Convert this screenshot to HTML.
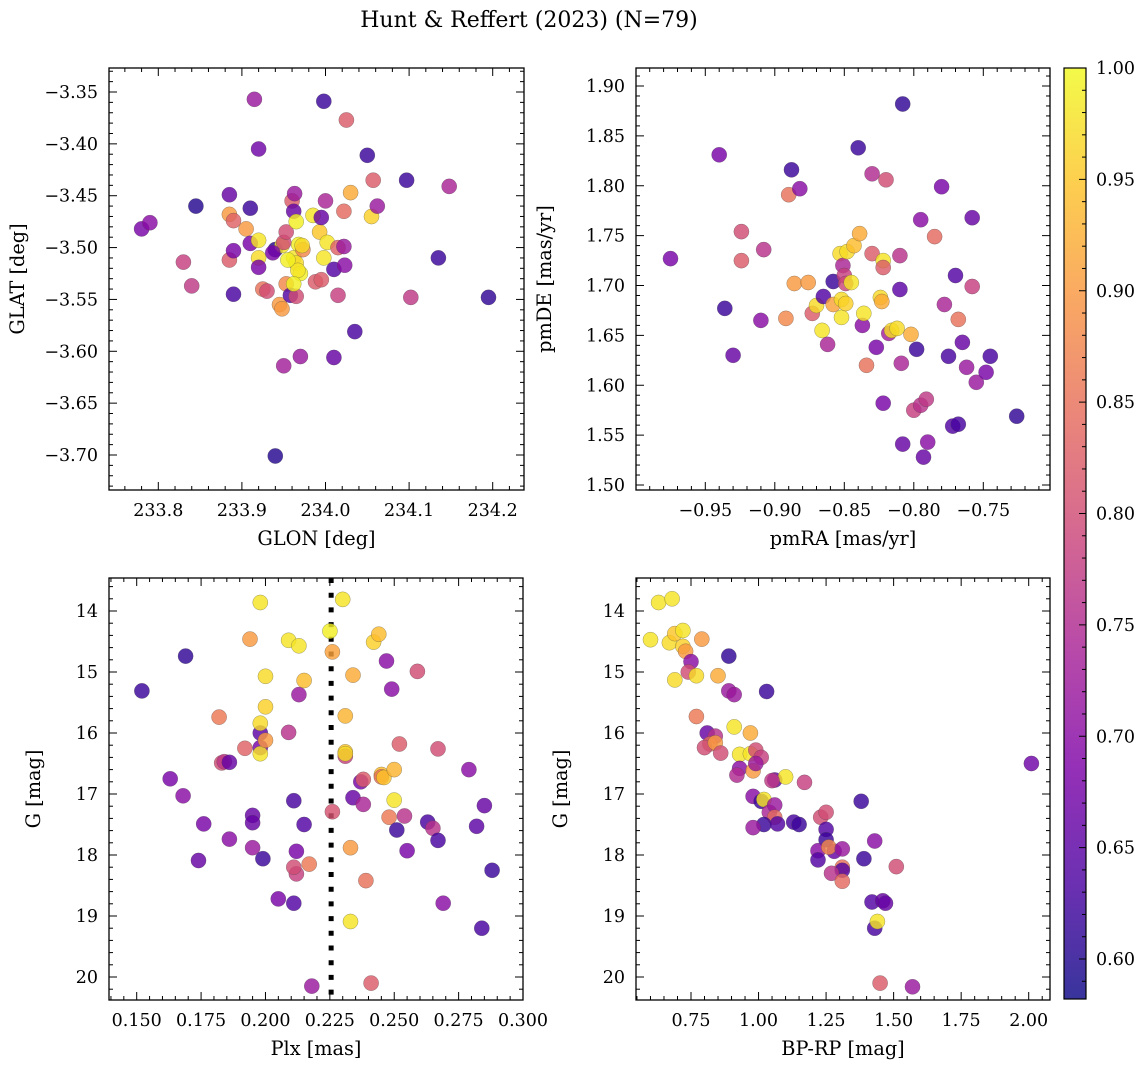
<!DOCTYPE html>
<html><head><meta charset="utf-8"><style>
html,body{margin:0;padding:0;background:#fff;}
svg{display:block;font-family:"DejaVu Serif","Liberation Serif",serif;}
</style></head><body>
<svg id="fig" width="1148" height="1067" viewBox="0 0 1148 1067" xmlns="http://www.w3.org/2000/svg">
<defs>
<linearGradient id="plasmaGrad" x1="0" y1="1" x2="0" y2="0">
<stop offset="0" stop-color="#0d0887"/><stop offset="0.125" stop-color="#4c02a1"/><stop offset="0.25" stop-color="#7e03a8"/><stop offset="0.375" stop-color="#a82296"/><stop offset="0.5" stop-color="#cb4679"/><stop offset="0.625" stop-color="#e56b5d"/><stop offset="0.75" stop-color="#f89441"/><stop offset="0.875" stop-color="#fdc328"/><stop offset="1" stop-color="#f0f921"/>
</linearGradient>
</defs>
<text x="529" y="27" font-size="22" text-anchor="middle">Hunt &amp; Reffert (2023) (N=79)</text>
</svg>
<script>
// ---- Panel data (top-left: GLON vs GLAT) ----
const glon = [233.78,233.79,233.845,233.83,233.84,233.885,233.885,233.89,233.905,233.885,233.89,233.89,233.91,233.91,233.915,233.92,233.92,233.92,233.92,233.925,233.93,233.94,233.94,233.945,233.948,233.95,233.948,233.95,233.953,233.953,233.958,233.96,233.963,233.962,233.965,233.962,233.965,233.968,233.97,233.967,233.965,233.97,233.973,233.972,233.988,233.985,233.995,233.993,233.998,233.995,234.0,234.002,233.998,234.01,234.01,234.015,234.015,234.022,234.022,234.025,234.023,234.03,234.035,234.05,234.055,234.057,234.062,234.097,234.102,234.135,234.148,234.195,233.937,233.955,233.962];
const glat = [-3.482,-3.476,-3.46,-3.514,-3.537,-3.449,-3.468,-3.474,-3.482,-3.512,-3.503,-3.545,-3.462,-3.496,-3.357,-3.405,-3.493,-3.51,-3.519,-3.54,-3.542,-3.502,-3.701,-3.555,-3.559,-3.614,-3.498,-3.495,-3.535,-3.485,-3.546,-3.455,-3.448,-3.465,-3.475,-3.51,-3.515,-3.497,-3.525,-3.522,-3.547,-3.605,-3.502,-3.498,-3.533,-3.469,-3.531,-3.485,-3.359,-3.471,-3.455,-3.495,-3.51,-3.521,-3.606,-3.546,-3.5,-3.499,-3.465,-3.377,-3.517,-3.447,-3.581,-3.411,-3.47,-3.435,-3.46,-3.435,-3.548,-3.51,-3.441,-3.548,-3.505,-3.512,-3.535];
const probTL = [0.68,0.70,0.60,0.78,0.77,0.66,0.90,0.83,0.90,0.82,0.68,0.63,0.62,0.68,0.72,0.67,0.98,0.97,0.68,0.85,0.80,0.60,0.60,0.90,0.90,0.73,0.98,0.80,0.88,0.80,0.64,0.82,0.72,0.66,0.99,0.98,0.97,0.99,0.99,0.98,0.80,0.72,0.88,0.97,0.82,0.98,0.82,0.95,0.62,0.66,0.74,0.98,0.98,0.64,0.66,0.78,0.83,0.72,0.84,0.82,0.70,0.92,0.63,0.62,0.96,0.82,0.72,0.62,0.77,0.62,0.74,0.61,0.68,0.99,0.99];

// ---- top-right: pmRA vs pmDE ----
const pmra = [-0.975,-0.94,-0.936,-0.93,-0.924,-0.924,-0.91,-0.908,-0.89,-0.888,-0.892,-0.882,-0.886,-0.876,-0.873,-0.87,-0.866,-0.865,-0.862,-0.858,-0.858,-0.852,-0.852,-0.853,-0.851,-0.85,-0.849,-0.849,-0.848,-0.845,-0.843,-0.84,-0.839,-0.837,-0.836,-0.834,-0.83,-0.83,-0.827,-0.824,-0.823,-0.822,-0.822,-0.822,-0.82,-0.818,-0.816,-0.812,-0.81,-0.81,-0.809,-0.808,-0.808,-0.802,-0.8,-0.798,-0.795,-0.795,-0.793,-0.791,-0.79,-0.785,-0.78,-0.778,-0.775,-0.772,-0.77,-0.768,-0.768,-0.765,-0.762,-0.758,-0.758,-0.755,-0.748,-0.745,-0.726];
const pmde = [1.727,1.831,1.677,1.63,1.754,1.725,1.665,1.736,1.791,1.816,1.667,1.797,1.702,1.703,1.672,1.68,1.655,1.689,1.641,1.704,1.681,1.686,1.668,1.732,1.72,1.71,1.682,1.702,1.734,1.703,1.74,1.838,1.752,1.66,1.672,1.62,1.812,1.732,1.638,1.688,1.684,1.725,1.718,1.582,1.806,1.652,1.655,1.657,1.73,1.696,1.622,1.882,1.541,1.651,1.575,1.636,1.766,1.58,1.528,1.586,1.543,1.749,1.799,1.681,1.629,1.559,1.71,1.666,1.561,1.643,1.618,1.768,1.699,1.603,1.613,1.629,1.569];
const probTR = [0.68,0.68,0.62,0.66,0.80,0.82,0.70,0.76,0.85,0.62,0.88,0.70,0.90,0.90,0.82,0.97,0.98,0.64,0.74,0.62,0.91,0.97,0.98,0.97,0.74,0.78,0.96,0.79,0.97,0.98,0.94,0.62,0.92,0.70,0.98,0.85,0.75,0.82,0.68,0.97,0.92,0.98,0.82,0.68,0.80,0.73,0.97,0.97,0.76,0.65,0.74,0.61,0.66,0.92,0.78,0.62,0.70,0.76,0.66,0.77,0.70,0.84,0.68,0.74,0.63,0.64,0.64,0.85,0.63,0.66,0.72,0.66,0.78,0.72,0.68,0.63,0.61];

// ---- bottom-left: Plx vs G ----
const plx = [0.152,0.163,0.168,0.169,0.176,0.174,0.182,0.183,0.184,0.186,0.186,0.192,0.194,0.195,0.195,0.195,0.198,0.198,0.198,0.198,0.198,0.199,0.2,0.2,0.2,0.205,0.209,0.209,0.211,0.211,0.212,0.211,0.212,0.213,0.213,0.215,0.215,0.217,0.218,0.225,0.226,0.226,0.23,0.231,0.231,0.231,0.231,0.233,0.233,0.234,0.234,0.237,0.238,0.238,0.239,0.241,0.242,0.244,0.245,0.245,0.246,0.247,0.248,0.249,0.25,0.25,0.251,0.252,0.254,0.255,0.259,0.263,0.265,0.267,0.267,0.269,0.279,0.282,0.284,0.285,0.288];
const gmagL = [15.31,16.75,17.03,14.74,17.49,18.09,15.74,16.49,16.47,16.48,17.74,16.25,14.46,17.35,17.47,17.88,16.0,13.86,16.24,16.34,15.84,18.06,15.07,15.57,16.12,18.72,14.48,15.99,17.11,18.79,18.31,18.2,17.94,15.37,14.57,15.14,17.5,18.15,20.15,14.33,14.67,17.29,13.81,15.72,16.31,16.38,16.34,17.88,19.09,17.06,15.05,16.8,16.76,17.17,18.42,20.1,14.51,14.38,16.68,16.72,16.73,14.82,17.38,15.28,16.6,17.1,17.59,16.18,17.36,17.93,14.99,17.46,17.56,16.26,17.76,18.79,16.6,17.53,19.2,17.19,18.25];
const probBL = [0.62,0.68,0.70,0.61,0.68,0.66,0.86,0.80,0.77,0.66,0.70,0.83,0.90,0.66,0.66,0.72,0.65,0.98,0.68,0.98,0.97,0.62,0.97,0.96,0.90,0.68,0.98,0.76,0.63,0.64,0.78,0.80,0.68,0.72,0.98,0.94,0.64,0.86,0.72,0.99,0.91,0.81,0.98,0.93,0.95,0.78,0.97,0.90,0.98,0.66,0.92,0.68,0.82,0.74,0.85,0.82,0.96,0.94,0.94,0.85,0.95,0.70,0.86,0.70,0.93,0.98,0.62,0.82,0.76,0.68,0.80,0.63,0.76,0.80,0.63,0.70,0.70,0.65,0.63,0.66,0.62];
const plxCut = [0.2255];

// ---- bottom-right: BP-RP vs G ----
const bprp = [0.60,0.63,0.68,0.67,0.69,0.72,0.72,0.73,0.75,0.74,0.69,0.77,0.79,0.89,0.77,0.85,0.89,0.91,0.91,0.81,0.84,0.82,0.80,0.84,0.86,0.97,1.03,0.93,0.97,0.99,1.01,0.93,0.92,0.98,0.99,1.06,1.10,1.05,1.17,0.98,1.01,1.02,1.04,1.06,1.06,1.02,0.98,1.07,1.13,1.15,1.38,1.23,1.25,1.25,1.25,1.28,1.22,1.26,1.31,1.22,1.39,1.31,1.31,1.27,1.31,1.43,1.51,1.42,1.46,1.47,1.43,1.44,1.45,1.57,2.01];
const gmagR = [14.47,13.86,13.80,14.52,14.37,14.32,14.58,14.66,14.83,15.0,15.13,15.06,14.46,14.74,15.73,15.06,15.31,15.37,15.9,16.0,16.05,16.18,16.24,16.16,16.33,16.0,15.32,16.35,16.34,16.28,16.4,16.58,16.69,16.62,16.5,16.77,16.72,16.78,16.81,17.04,17.12,17.09,17.3,17.18,17.38,17.5,17.55,17.49,17.46,17.5,17.12,17.38,17.3,17.58,17.75,17.94,17.93,17.87,17.9,18.08,18.06,18.2,18.25,18.3,18.43,17.77,18.19,18.77,18.75,18.79,19.2,19.09,20.1,20.16,16.5];
const probBR = [0.98,0.98,0.98,0.97,0.95,0.98,0.96,0.90,0.70,0.80,0.97,0.97,0.90,0.61,0.86,0.92,0.72,0.72,0.98,0.66,0.76,0.84,0.80,0.90,0.80,0.92,0.62,0.98,0.98,0.80,0.78,0.70,0.75,0.90,0.72,0.66,0.98,0.77,0.78,0.70,0.62,0.98,0.74,0.72,0.84,0.62,0.72,0.64,0.63,0.62,0.62,0.80,0.80,0.64,0.62,0.66,0.70,0.88,0.72,0.64,0.62,0.85,0.64,0.76,0.84,0.70,0.80,0.64,0.66,0.66,0.63,0.98,0.82,0.72,0.67];

const cbTicks = ["0.60","0.65","0.70","0.75","0.80","0.85","0.90","0.95","1.00"];
const VMIN = 0.582, VMAX = 1.0;

const NS = "http://www.w3.org/2000/svg";
const svg = document.getElementById('fig');
function mk(tag, attrs, parent){
  const e = document.createElementNS(NS, tag);
  for (const k in attrs) e.setAttribute(k, attrs[k]);
  (parent||svg).appendChild(e);
  return e;
}
const stops = [[0,[13,8,135]],[0.125,[76,2,161]],[0.25,[126,3,168]],[0.375,[168,34,150]],[0.5,[203,70,121]],[0.625,[229,107,93]],[0.75,[248,148,65]],[0.875,[253,195,40]],[1,[240,249,33]]];
function plasma(t){
  t = Math.max(0, Math.min(1, t));
  for (let i=0;i<stops.length-1;i++){
    const a=stops[i], b=stops[i+1];
    if (t<=b[0]){
      const f=(t-a[0])/(b[0]-a[0]);
      const c=a[1].map((v,j)=>Math.round(v+(b[1][j]-v)*f));
      return `rgb(${c[0]},${c[1]},${c[2]})`;
    }
  }
  return 'rgb(240,249,33)';
}
function lin(v0,p0,v1,p1){ const s=(p1-p0)/(v1-v0); return v=>p0+(v-v0)*s; }
function inv(v0,p0,v1,p1){ const s=(v1-v0)/(p1-p0); return p=>v0+(p-p0)*s; }
function fmt(v,d){ const s=Math.abs(v).toFixed(d); return (v<0?'\u2212':'')+s; }

function panel(cfg){
  const g = mk('g', {});
  
  
  const {L,T,R,B} = cfg;
  const xs = lin(cfg.xr[0],cfg.xr[1],cfg.xr[2],cfg.xr[3]);
  const ys = lin(cfg.yr[0],cfg.yr[1],cfg.yr[2],cfg.yr[3]);
  const xi = inv(cfg.xr[0],cfg.xr[1],cfg.xr[2],cfg.xr[3]);
  const yi = inv(cfg.yr[0],cfg.yr[1],cfg.yr[2],cfg.yr[3]);
  const cid = 'clip-'+cfg.name;
  const cp = mk('clipPath', {id:cid}, g);
  mk('rect', {x:L,y:T,width:R-L,height:B-T}, cp);
  const plotG = mk('g', {'clip-path':`url(#${cid})`}, g);
  
  
  if (cfg.vline){
    cfg.vline.forEach(v=>{
      const ln = mk('line', {x1:xs(v),x2:xs(v),y1:T,y2:B,stroke:'#000','stroke-width':5,'stroke-dasharray':'5,9.7'}, plotG);
      
      
    });
  }
  for (let i=0;i<cfg.x.length;i++){
    const c = mk('circle', {cx:xs(cfg.x[i]).toFixed(1), cy:ys(cfg.y[i]).toFixed(1), r:7.6,
      fill:plasma((cfg.p[i]-VMIN)/(VMAX-VMIN)), 'fill-opacity':0.82, stroke:'#444', 'stroke-width':0.5, 'stroke-opacity':0.5}, plotG);
    
    
  }
  const fr = mk('rect', {x:L,y:T,width:R-L,height:B-T,fill:'none',stroke:'#000','stroke-width':1.3}, g);
  
  
  const tg = mk('g', {stroke:'#000','stroke-width':1}, g);
  
  
  const lab = mk('g', {'font-size':17.5}, g);
  const x0=xi(L), x1=xi(R+2);
  for (let k=Math.ceil(x0/cfg.xmin-1e-6); k*cfg.xmin<=x1+1e-9; k++){
    const v=k*cfg.xmin, px=xs(v);
    if (px<L+0.5||px>R+2) continue;
    const major = Math.abs(v/cfg.xmaj-Math.round(v/cfg.xmaj))<1e-6;
    const len = major?8:4;
    if (px<R-0.5){
      mk('line',{x1:px,x2:px,y1:B,y2:B-len},tg); mk('line',{x1:px,x2:px,y1:T,y2:T+len},tg);
    }
    if (major){
      const t = mk('text',{x:px,y:B+26,'text-anchor':'middle'},lab);
      t.textContent = fmt(v,cfg.xd);
      
      
    }
  }
  const ya=Math.min(yi(T),yi(B)), yb=Math.max(yi(T),yi(B));
  for (let k=Math.ceil(ya/cfg.ymin-1e-6); k*cfg.ymin<=yb+1e-9; k++){
    const v=k*cfg.ymin, py=ys(v);
    if (py<T+0.5||py>B-0.5) continue;
    const major = Math.abs(v/cfg.ymaj-Math.round(v/cfg.ymaj))<1e-6;
    const len = major?8:4;
    mk('line',{x1:L,x2:L+len,y1:py,y2:py},tg); mk('line',{x1:R,x2:R-len,y1:py,y2:py},tg);
    if (major){
      const t = mk('text',{x:L-11,y:py+6,'text-anchor':'end'},lab);
      t.textContent = fmt(v,cfg.yd);
      
      
    }
  }
  const xl = mk('text',{x:(L+R)/2,y:B+55,'text-anchor':'middle','font-size':19.3},g);
  xl.textContent = cfg.xlabel;
  
  
  const yx = cfg.ylx, yy=(T+B)/2;
  const yl = mk('text',{x:yx,y:yy,'text-anchor':'middle','font-size':19.3,transform:`rotate(-90 ${yx} ${yy})`},g);
  yl.textContent = cfg.ylabel;
  
  
}

panel({name:'glon-glat-panel',L:109,T:68,R:524,B:490,xr:[233.8,158.3,234.2,492.7],yr:[-3.35,92,-3.70,455],
  x:glon,y:glat,p:probTL,xmaj:0.1,xmin:0.02,ymaj:0.05,ymin:0.01,xd:1,yd:2,xlabel:'GLON [deg]',ylabel:'GLAT [deg]',ylx:24});
panel({name:'pm-panel',L:636,T:68,R:1050,B:490,xr:[-0.95,705.3,-0.75,983.3],yr:[1.90,86,1.50,485],
  x:pmra,y:pmde,p:probTR,xmaj:0.05,xmin:0.01,ymaj:0.05,ymin:0.01,xd:2,yd:2,xlabel:'pmRA [mas/yr]',ylabel:'pmDE [mas/yr]',ylx:551});
panel({name:'plx-g-panel',L:109,T:578,R:523,B:1000,xr:[0.15,136.7,0.30,523],yr:[14,611,20,977],
  x:plx,y:gmagL,p:probBL,xmaj:0.025,xmin:0.005,ymaj:1,ymin:0.2,xd:3,yd:0,xlabel:'Plx [mas]',ylabel:'G [mag]',ylx:40,vline:plxCut});
panel({name:'cmd-panel',L:636,T:578,R:1050,B:1000,xr:[0.75,691,2.0,1028.7],yr:[14,611,20,977],
  x:bprp,y:gmagR,p:probBR,xmaj:0.25,xmin:0.05,ymaj:1,ymin:0.2,xd:2,yd:0,xlabel:'BP-RP [mag]',ylabel:'G [mag]',ylx:567});

(function(){
  const g = mk('g',{});
  
  
  const L=1064,R=1086,T=68,B=999;
  const cs = lin(0.60,959,1.00,68);
  mk('rect',{x:L,y:T,width:R-L,height:B-T,fill:'url(#plasmaGrad)','fill-opacity':0.82},g);
  mk('rect',{x:L,y:T,width:R-L,height:B-T,fill:'none',stroke:'#000','stroke-width':1.2},g);
  for (let k=59;k<=100;k++){
    const v=k/100, py=cs(v);
    if (py<T+0.5||py>B-0.5) continue;
    const major = k%5===0;
    mk('line',{x1:R,x2:R-(major?7:4),y1:py,y2:py,stroke:'#000','stroke-width':1},g);
  }
  cbTicks.forEach(s=>{
    const t = mk('text',{x:1096,y:cs(parseFloat(s))+6,'font-size':17.5},g);
    t.textContent = s;
    
    
  });
})();
</script>
</body></html>
